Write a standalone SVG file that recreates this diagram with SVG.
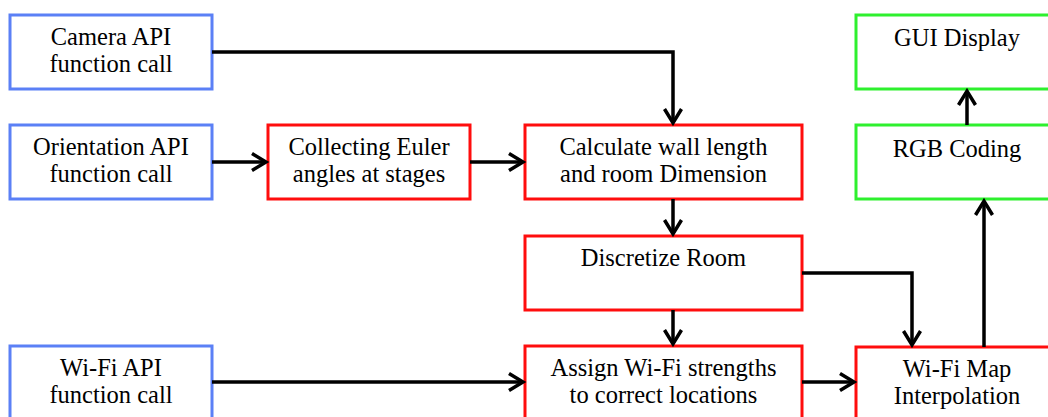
<svg xmlns="http://www.w3.org/2000/svg" width="1048" height="417" viewBox="0 0 1048 417">
<defs>
<style>
.b{fill:#fff;stroke-width:3}
.blue{stroke:#5b80f6}
.red{stroke:#ff0d0d}
.green{stroke:#2ef02e}
text{font-family:"Liberation Serif","Times New Roman",serif;font-size:24.5px;fill:#000;text-anchor:middle}
.c{fill:none;stroke:#000;stroke-width:3.5;marker-end:url(#ah)}
</style>
<marker id="ah" markerUnits="userSpaceOnUse" viewBox="-16 -10 20 20" refX="0" refY="0" markerWidth="20" markerHeight="20" orient="auto" overflow="visible">
<path d="M-14,-8.5 L0,0 L-14,8.5" fill="none" stroke="#000" stroke-width="3.5"/>
</marker>
</defs>
<rect width="1048" height="417" fill="#fff"/>
<g id="camera"><rect class="b blue" x="10" y="15" width="202" height="74"/><text x="111" y="45">Camera API</text><text x="111" y="72">function call</text></g>
<g id="orientation"><rect class="b blue" x="10" y="125" width="202" height="74"/><text x="111" y="155">Orientation API</text><text x="111" y="182">function call</text></g>
<g id="wifiapi"><rect class="b blue" x="10" y="346" width="202" height="74"/><text x="111" y="376">Wi-Fi API</text><text x="111" y="403">function call</text></g>
<g id="euler"><rect class="b red" x="268" y="125" width="202" height="74"/><text x="369" y="155">Collecting Euler</text><text x="369" y="182">angles at stages</text></g>
<g id="calculate"><rect class="b red" x="525" y="125" width="277" height="74"/><text x="663.5" y="155">Calculate wall length</text><text x="663.5" y="182">and room Dimension</text></g>
<g id="discretize"><rect class="b red" x="525" y="236" width="277" height="74"/><text x="663.5" y="266">Discretize Room</text></g>
<g id="assign"><rect class="b red" x="525" y="346" width="277" height="74"/><text x="663.5" y="376">Assign Wi-Fi strengths</text><text x="663.5" y="403">to correct locations</text></g>
<g id="interp"><rect class="b red" x="856" y="347" width="202" height="74"/><text x="957" y="377">Wi-Fi Map</text><text x="957" y="404">Interpolation</text></g>
<g id="rgb"><rect class="b green" x="856" y="125" width="202" height="74"/><text x="957" y="157">RGB Coding</text></g>
<g id="gui"><rect class="b green" x="856" y="15" width="202" height="74"/><text x="957" y="46">GUI Display</text></g>
<g id="connectors">
<path class="c" d="M212,52 H673 V123"/>
<path class="c" d="M212,162 H266"/>
<path class="c" d="M470,162 H523"/>
<path class="c" d="M673,199 V234"/>
<path class="c" d="M673,310 V344"/>
<path class="c" d="M802,273 H912 V345"/>
<path class="c" d="M212,382 H523"/>
<path class="c" d="M802,382 H854"/>
<path class="c" d="M984,347 V201"/>
<path class="c" d="M967,125 V91"/>
</g>
</svg>
